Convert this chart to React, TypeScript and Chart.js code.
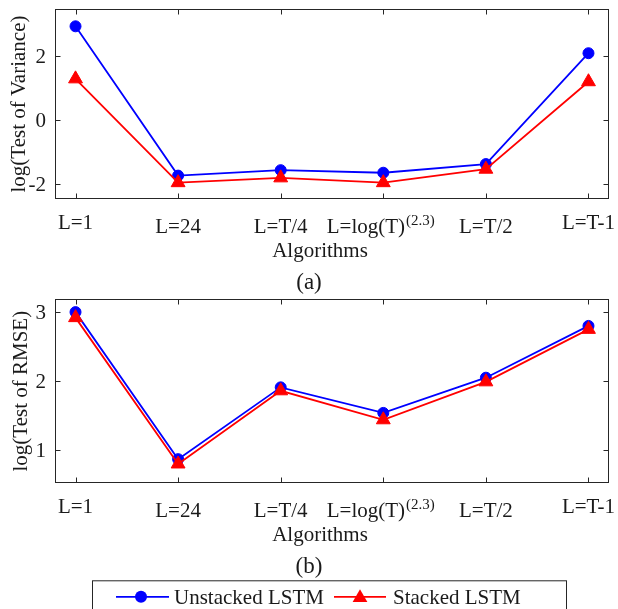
import React, { useEffect, useRef } from "react";
import { Chart, registerables } from "chart.js";
Chart.register(...registerables);

const categories = ["L=1", "L=24", "L=T/4", "L=log(T)", "L=T/2", "L=T-1"];
const categorySup = ["", "", "", "(2.3)", "", ""];
const varianceUnstacked = [2.93, -1.73, -1.56, -1.64, -1.37, 2.09];
const varianceStacked = [1.29, -1.95, -1.8, -1.95, -1.53, 1.2];
const rmseUnstacked = [3.0, 0.87, 1.91, 1.54, 2.05, 2.8];
const rmseStacked = [2.92, 0.8, 1.86, 1.44, 1.99, 2.75];
const varianceTicks = [-2, 0, 2];
const rmseTicks = [1, 2, 3];
const seriesNames = ["Unstacked LSTM", "Stacked LSTM"];
const xTitle = "Algorithms";

const FONT = "'Liberation Serif', 'Times New Roman', serif";
const TXT = "#1a1a1a";
const AX = "#262626";
const BLUE = "#0000ff";
const RED = "#ff0000";

function makePlugin(cfg: {
  yTitle: string;
  caption: string;
  yTicks: number[];
  legend: boolean;
  yTitleX: number;
}) {
  return {
    id: "matlabAxes",
    afterDraw(chart: any) {
      const ctx = chart.ctx as CanvasRenderingContext2D;
      const a = chart.chartArea;
      const xs = chart.scales.x;
      const ys = chart.scales.y;
      ctx.save();
      // frame
      ctx.strokeStyle = AX;
      ctx.lineWidth = 1;
      const L = Math.round(a.left) + 0.5,
        R = Math.round(a.right) - 0.5,
        T = Math.round(a.top) + 0.5,
        B = Math.round(a.bottom) - 0.5;
      ctx.strokeRect(L, T, R - L, B - T);
      // x ticks
      ctx.beginPath();
      categories.forEach((_, i) => {
        const px = Math.round(xs.getPixelForValue(i)) + 0.5;
        ctx.moveTo(px, B);
        ctx.lineTo(px, B - 5);
        ctx.moveTo(px, T);
        ctx.lineTo(px, T + 5);
      });
      cfg.yTicks.forEach((v) => {
        const py = Math.round(ys.getPixelForValue(v)) + 0.5;
        ctx.moveTo(L, py);
        ctx.lineTo(L + 5, py);
        ctx.moveTo(R, py);
        ctx.lineTo(R - 5, py);
      });
      ctx.stroke();
      // y tick labels
      ctx.fillStyle = TXT;
      ctx.font = `21px ${FONT}`;
      ctx.textAlign = "right";
      ctx.textBaseline = "middle";
      cfg.yTicks.forEach((v) => {
        ctx.fillText(String(v), a.left - 9, ys.getPixelForValue(v) + 1);
      });
      // x tick labels
      ctx.textBaseline = "alphabetic";
      categories.forEach((lab, i) => {
        const px = xs.getPixelForValue(i);
        const edge = i === 0 || i === categories.length - 1;
        const base = a.bottom + (edge ? 30 : 33.5);
        const sup = categorySup[i];
        ctx.font = `21px ${FONT}`;
        const w1 = ctx.measureText(lab).width;
        let w2 = 0;
        if (sup) {
          ctx.font = `15px ${FONT}`;
          w2 = ctx.measureText(sup).width;
        }
        const total = w1 + w2;
        const start = px - total / 2 - (sup ? 3 : 0);
        ctx.textAlign = "left";
        ctx.font = `21px ${FONT}`;
        ctx.fillText(lab, start, base);
        if (sup) {
          ctx.font = `15px ${FONT}`;
          ctx.fillText(sup, start + w1 + 1, base - 8);
        }
      });
      // x title
      ctx.font = `21px ${FONT}`;
      ctx.textAlign = "center";
      ctx.fillText(xTitle, 320, a.bottom + 57.5);
      // caption
      ctx.font = `23px ${FONT}`;
      ctx.fillText(cfg.caption, 309, a.bottom + 89.5);
      // y title
      ctx.save();
      ctx.translate(cfg.yTitleX, (a.top + a.bottom) / 2);
      ctx.rotate(-Math.PI / 2);
      ctx.font = `21px ${FONT}`;
      ctx.textAlign = "center";
      ctx.textBaseline = "middle";
      ctx.fillText(cfg.yTitle, 0, 0);
      ctx.restore();
      // legend
      if (cfg.legend) {
        const top = a.bottom + 97.5;
        ctx.strokeStyle = AX;
        ctx.lineWidth = 1;
        ctx.strokeRect(92.5, top, 474, 60);
        const ly = top + 16;
        const items = [
          { x0: 116, x1: 169, mx: 141, tx: 174, color: BLUE, style: "circle", r: 6 },
          { x0: 334, x1: 386, mx: 360, tx: 393, color: RED, style: "triangle", r: 8.5 },
        ];
        items.forEach((it, k) => {
          ctx.strokeStyle = it.color;
          ctx.lineWidth = 1.8;
          ctx.beginPath();
          ctx.moveTo(it.x0, ly);
          ctx.lineTo(it.x1, ly);
          ctx.stroke();
          ctx.fillStyle = it.color;
          ctx.beginPath();
          if (it.style === "circle") {
            ctx.arc(it.mx, ly, it.r, 0, Math.PI * 2);
          } else {
            for (let j = 0; j < 3; j++) {
              const ang = (j * 2 * Math.PI) / 3;
              const px = it.mx + Math.sin(ang) * it.r;
              const py = ly + 1 - Math.cos(ang) * it.r;
              if (j === 0) ctx.moveTo(px, py);
              else ctx.lineTo(px, py);
            }
            ctx.closePath();
          }
          ctx.fill();
          ctx.fillStyle = TXT;
          ctx.font = `21px ${FONT}`;
          ctx.textAlign = "left";
          ctx.textBaseline = "alphabetic";
          ctx.fillText(seriesNames[k], it.tx, ly + 7.5);
        });
      }
      ctx.restore();
    },
  };
}

function toPts(vals: number[]) {
  return vals.map((v, i) => ({ x: i, y: v }));
}

function makeConfig(
  unstacked: number[],
  stacked: number[],
  yMin: number,
  yMax: number,
  padding: any,
  plugin: any
): any {
  return {
    type: "line",
    data: {
      datasets: [
        {
          label: seriesNames[0],
          data: toPts(unstacked),
          borderColor: BLUE,
          backgroundColor: BLUE,
          borderWidth: 1.8,
          pointStyle: "circle",
          pointRadius: 5.5,
          pointBorderWidth: 1,
          order: 2,
          clip: false,
        },
        {
          label: seriesNames[1],
          data: toPts(stacked),
          borderColor: RED,
          backgroundColor: RED,
          borderWidth: 1.8,
          pointStyle: "triangle",
          pointRadius: 8,
          pointBorderWidth: 1,
          order: 1,
          clip: false,
        },
      ],
    },
    options: {
      responsive: false,
      animation: false,
      devicePixelRatio: 1,
      layout: { padding },
      plugins: { legend: { display: false }, tooltip: { enabled: false } },
      events: [],
      scales: {
        x: { type: "linear", min: -0.2, max: 5.2, display: false },
        y: { type: "linear", min: yMin, max: yMax, display: false },
      },
    },
    plugins: [plugin],
  };
}

export default function App() {
  const c1 = useRef<HTMLCanvasElement>(null);
  const c2 = useRef<HTMLCanvasElement>(null);
  useEffect(() => {
    const ch1 = new Chart(
      c1.current!,
      makeConfig(
        varianceUnstacked,
        varianceStacked,
        -2.46,
        3.47,
        { left: 55, right: 3, top: 8, bottom: 300 - 199 },
        makePlugin({
          yTitle: "log(Test of Variance)",
          caption: "(a)",
          yTicks: varianceTicks,
          legend: false,
          yTitleX: 19,
        })
      )
    );
    const ch2 = new Chart(
      c2.current!,
      makeConfig(
        rmseUnstacked,
        rmseStacked,
        0.52,
        3.19,
        { left: 55, right: 3.5, top: 3.3, bottom: 319 - 193.3 },
        makePlugin({
          yTitle: "log(Test of RMSE)",
          caption: "(b)",
          yTicks: rmseTicks,
          legend: true,
          yTitleX: 21,
        })
      )
    );
    return () => {
      ch1.destroy();
      ch2.destroy();
    };
  }, []);
  return (
    <div style={{ position: "fixed", left: 0, top: 0, width: 618, height: 609, background: "#fff" }}>
      <canvas
        ref={c1}
        width={618}
        height={300}
        style={{ position: "absolute", left: 0, top: 0, width: 618, height: 300 }}
      />
      <canvas
        ref={c2}
        width={618}
        height={319}
        style={{ position: "absolute", left: 0, top: 290, width: 618, height: 319 }}
      />
    </div>
  );
}
